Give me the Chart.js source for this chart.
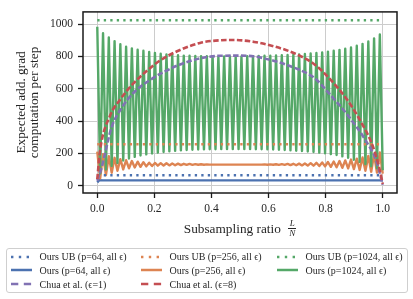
<!DOCTYPE html>
<html>
<head>
<meta charset="utf-8">
<script src="https://cdn.jsdelivr.net/npm/chart.js@4.4.1/dist/chart.umd.min.js"></script>
<style>
  html, body { margin: 0; padding: 0; background: #fff; }
  #wrap { position: relative; width: 413px; height: 299px; font-family: "Liberation Serif", serif; color: #262626; }
  #c { position: absolute; left: 0; top: 0; }
  #xtitle { position: absolute; left: 83px; top: 219px; width: 314px; display: flex; justify-content: center; align-items: center; font-size: 13.3px; }
  .frac { display: inline-flex; flex-direction: column; align-items: center; font-style: italic; font-size: 9px; line-height: 1; margin-left: 4px; }
  .frac .den { border-top: 0.8px solid #262626; padding: 0 1px; }
  #legend { position: absolute; left: 5.5px; top: 247.5px; width: 402px; height: 45px; border: 1px solid #cfcfcf; border-radius: 3px; box-sizing: border-box; font-size: 10px; }
  .item { position: absolute; height: 12px; display: flex; align-items: center; white-space: nowrap; }
  .item svg { margin-right: 8px; }
</style>
</head>
<body>
<div id="wrap">
  <canvas id="c" width="413" height="299"></canvas>
  <div id="xtitle">Subsampling ratio&nbsp;<span class="frac"><span>L</span><span class="den">N</span></span></div>
  <div id="legend"></div>
</div>
<script>
// valori
var xTicks = [0, 0.2, 0.4, 0.6, 0.8, 1.0];
var yTicks = [0, 200, 400, 600, 800, 1000];

// limiti superiori (linee orizzontali)
var ubX = [0, 1];
var ub64 = [64, 64];
var ub256 = [256, 256];
var ub1024 = [1024, 1024];

// p=64, quasi costante
var oursX64 = [0, 0.007, 0.02, 0.98, 1.0];
var ours64 = [20, 34, 32, 32, 32];

// p=256 e p=1024: 100 campioni, alternati picco / valle
var campioni = 99;
var picchi256 = [210, 195, 182, 172, 164, 157, 152, 148, 145, 142,
                 140, 139, 138, 137, 136, 135, 134, 133, 132, 131,
                 130, 130, 130, 130, 130, 130, 130, 130, 130, 131,
                 131, 132, 133, 134, 135, 136, 137, 139, 141, 143,
                 146, 149, 152, 156, 161, 167, 174, 183, 193, 205];
var valli256 = [45, 65, 80, 92, 100, 107, 112, 116, 119, 121,
                123, 124, 125, 126, 127, 128, 128, 129, 129, 130,
                130, 130, 130, 130, 130, 130, 130, 130, 130, 129,
                129, 128, 128, 127, 126, 125, 124, 123, 121, 119,
                116, 113, 110, 106, 102, 97, 92, 86, 80, 74];
var picchi1024 = [984, 944, 918, 895, 876, 860, 850, 842, 835, 828,
                  822, 817, 813, 810, 807, 805, 804, 803, 802, 801,
                  800, 800, 800, 800, 800, 800, 801, 802, 803, 804,
                  805, 806, 807, 809, 811, 813, 815, 818, 821, 825,
                  830, 835, 841, 848, 856, 866, 878, 893, 912, 936];
var valli1024 = [75, 100, 122, 140, 155, 168, 178, 186, 193, 199,
                 204, 208, 212, 215, 218, 220, 222, 223, 224, 225,
                 225, 226, 226, 226, 226, 226, 226, 225, 225, 224,
                 223, 222, 220, 218, 216, 214, 211, 208, 204, 200,
                 195, 189, 181, 172, 160, 147, 133, 120, 108, 95];

// Chua et al.
var chuaX1 = [0, 0.015, 0.05, 0.085, 0.13, 0.19, 0.24, 0.29, 0.36, 0.43, 0.5, 0.55, 0.62, 0.69, 0.76, 0.81, 0.88, 0.94, 0.976, 1.0];
var chua1 = [30, 110, 360, 480, 580, 660, 710, 750, 788, 804, 805, 800, 772, 730, 668, 575, 430, 280, 160, 5];
var chuaX8 = [0, 0.01, 0.044, 0.079, 0.125, 0.16, 0.22, 0.29, 0.36, 0.43, 0.48, 0.55, 0.62, 0.69, 0.76, 0.81, 0.88, 0.93, 0.964, 0.988, 1.0];
var chua8 = [40, 220, 430, 530, 630, 690, 775, 840, 884, 900, 902, 890, 862, 820, 752, 670, 520, 375, 250, 110, 10];

var etichette = ['Ours UB (p=64, all \u03f5)', 'Ours (p=64, all \u03f5)', 'Chua et al. (\u03f5=1)',
                 'Ours UB (p=256, all \u03f5)', 'Ours (p=256, all \u03f5)', 'Chua et al. (\u03f5=8)',
                 'Ours UB (p=1024, all \u03f5)', 'Ours (p=1024, all \u03f5)'];

var blu = '#4c72b0', arancio = '#dd8452', verde = '#55a868', rosso = '#c44e52', viola = '#8172b3';

function punti(xs, ys) {
  var out = [];
  for (var i = 0; i < xs.length; i++) out.push({x: xs[i], y: ys[i]});
  return out;
}

// intreccia picchi e valli sui campioni
function alternati(picchi, valli) {
  var out = [];
  for (var k = 0; k < picchi.length; k++) {
    out.push({x: (2 * k) / campioni, y: picchi[k]});
    out.push({x: (2 * k + 1) / campioni, y: valli[k]});
  }
  return out;
}

var PUNTINI = [2.3, 4.2];
var TRATTI = [5.5, 2.4];

var datasets = [
  {label: etichette[0], data: punti(ubX, ub64), borderColor: blu, borderWidth: 2.5, borderDash: PUNTINI, order: 4, tipo: 'dot'},
  {label: etichette[1], data: punti(oursX64, ours64), borderColor: blu, borderWidth: 2.4, order: 7, tipo: 'solid'},
  {label: etichette[2], data: punti(chuaX1, chua1), borderColor: viola, borderWidth: 2.6, borderDash: TRATTI, cubicInterpolationMode: 'monotone', order: 1, tipo: 'dash'},
  {label: etichette[3], data: punti(ubX, ub256), borderColor: arancio, borderWidth: 2.5, borderDash: PUNTINI, order: 3, tipo: 'dot'},
  {label: etichette[4], data: alternati(picchi256, valli256), borderColor: arancio, borderWidth: 2.4, order: 6, tipo: 'solid'},
  {label: etichette[5], data: punti(chuaX8, chua8), borderColor: rosso, borderWidth: 2.6, borderDash: TRATTI, cubicInterpolationMode: 'monotone', order: 0, tipo: 'dash'},
  {label: etichette[6], data: punti(ubX, ub1024), borderColor: verde, borderWidth: 2.5, borderDash: PUNTINI, order: 2, tipo: 'dot'},
  {label: etichette[7], data: alternati(picchi1024, valli1024), borderColor: verde, borderWidth: 2.4, order: 5, tipo: 'solid'}
];

// cornice nera attorno all'area del grafico
var cornice = {
  id: 'cornice',
  afterDatasetsDraw: function(chart) {
    var a = chart.chartArea, c = chart.ctx;
    c.save();
    c.strokeStyle = '#1a1a1a';
    c.lineWidth = 1.5;
    c.strokeRect(a.left, a.top, a.right - a.left, a.bottom - a.top);
    c.restore();
  }
};

var fontTick = {family: '"Liberation Serif", serif', size: 11.5};

new Chart(document.getElementById('c'), {
  type: 'line',
  data: {datasets: datasets},
  options: {
    responsive: false,
    animation: false,
    layout: {padding: {top: 6, right: 16, left: 0, bottom: 0}},
    plugins: {legend: {display: false}, tooltip: {enabled: false}},
    elements: {point: {radius: 0}, line: {tension: 0, borderJoinStyle: 'round', borderCapStyle: 'butt', fill: false}},
    scales: {
      x: {
        type: 'linear', min: -0.05, max: 1.05,
        afterFit: function(s) { s.height = 106; },
        afterBuildTicks: function(s) { s.ticks = xTicks.map(function(v) { return {value: v}; }); },
        ticks: {callback: function(v) { return v.toFixed(1); }, font: fontTick, color: '#262626', padding: 4, maxRotation: 0, autoSkip: false},
        grid: {color: '#cccccc', lineWidth: 1, tickColor: '#1a1a1a', tickLength: 5, tickWidth: 1.3},
        border: {display: false}
      },
      y: {
        type: 'linear', min: -46, max: 1076,
        afterFit: function(s) { s.width = 83; },
        afterBuildTicks: function(s) { s.ticks = yTicks.map(function(v) { return {value: v}; }); },
        ticks: {callback: function(v) { return String(v); }, font: fontTick, color: '#262626', padding: 5, autoSkip: false},
        grid: {color: '#cccccc', lineWidth: 1, tickColor: '#1a1a1a', tickLength: 5, tickWidth: 1.3},
        border: {display: false},
        title: {display: true, text: ['Expected add. grad', 'computation per step'], color: '#262626',
                font: {family: '"Liberation Serif", serif', size: 13.3, lineHeight: 1.0}, padding: {top: 15, bottom: 0}}
      }
    }
  },
  plugins: [cornice]
});

// legenda html, tre colonne riempite per colonna
var colonne = [4, 134, 270];
var righe = [2, 15.5, 29.5];
var legenda = document.getElementById('legend');
datasets.forEach(function(d, i) {
  var div = document.createElement('div');
  div.className = 'item';
  div.style.left = colonne[Math.floor(i / 3)] + 'px';
  div.style.top = righe[i % 3] + 'px';
  var dash = '';
  if (d.tipo === 'dot') dash = ' stroke-dasharray="2.4 5.4"';
  if (d.tipo === 'dash') dash = ' stroke-dasharray="7.3 5.5"';
  div.innerHTML = '<svg width="21" height="6"><line x1="0" y1="3" x2="21" y2="3" stroke="' + d.borderColor +
    '" stroke-width="2.5"' + dash + '/></svg><span>' + d.label + '</span>';
  legenda.appendChild(div);
});
</script>
</body>
</html>
